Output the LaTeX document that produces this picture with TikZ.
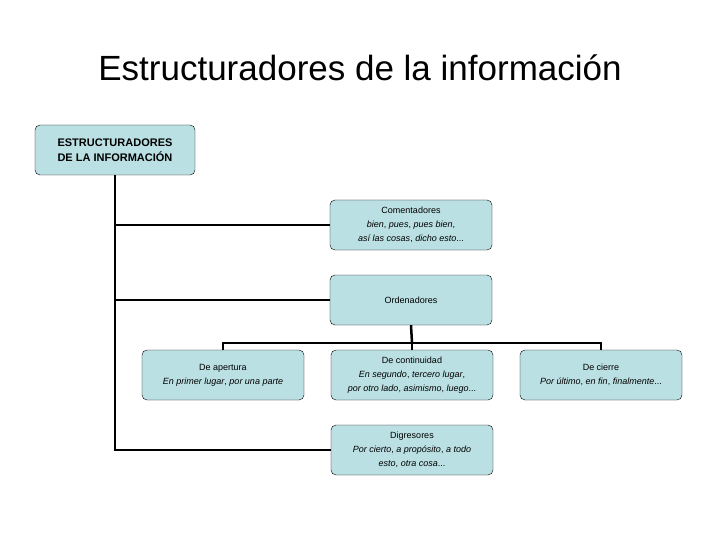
\documentclass[tikz,border=0pt]{standalone}
\usepackage{fontspec}
\setmainfont{Liberation Sans}
\begin{document}
\begin{tikzpicture}[x=1pt,y=-1pt,
  box/.style={draw=black,fill=cyan!8!teal!25!white,fill=boxfill,rounded corners=5pt,minimum width=162pt,minimum height=50pt,align=center,font=\fontsize{9}{14}\selectfont,inner sep=2pt},
  link/.style={line width=2.5pt}]
\definecolor{boxfill}{RGB}{187,224,227}
\useasboundingbox (0,0) rectangle (720,540);
\node (title) at (360,68) {\fontsize{35}{40}\selectfont Estructuradores de la información};
\node[box,minimum width=160pt,font=\fontsize{11}{15}\selectfont\bfseries,align=left] (root) at (115,150) {ESTRUCTURADORES\\DE LA INFORMACIÓN};
\node[box] (com) at (411,225) {Comentadores\\\textit{bien}, \textit{pues}, \textit{pues bien},\\\textit{así las cosas}, \textit{dicho esto}...};
\node[box] (ord) at (411,300) {Ordenadores};
\node[box] (ape) at (223,375) {De apertura\\\textit{En primer lugar}, \textit{por una parte}};
\node[box] (con) at (412,375) {De continuidad\\\textit{En segundo}, \textit{tercero lugar},\\\textit{por otro lado}, \textit{asimismo}, \textit{luego}...};
\node[box] (cie) at (601,375) {De cierre\\\textit{Por último}, \textit{en fin}, \textit{finalmente}...};
\node[box] (dig) at (412,450) {Digresores\\\textit{Por cierto}, \textit{a propósito}, \textit{a todo}\\\textit{esto}, \textit{otra cosa}...};
\coordinate (bus) at (412,343);
\draw[link] (root.south) |- (dig.west);
\draw[link] (root.south) |- (com.west);
\draw[link] (root.south) |- (ord.west);
\draw[link] (ord.south) -- (bus);
\draw[link] (ape.north) |- (bus) -| (cie.north);
\draw[link] (bus) -- (con.north);
\end{tikzpicture}
\end{document}
